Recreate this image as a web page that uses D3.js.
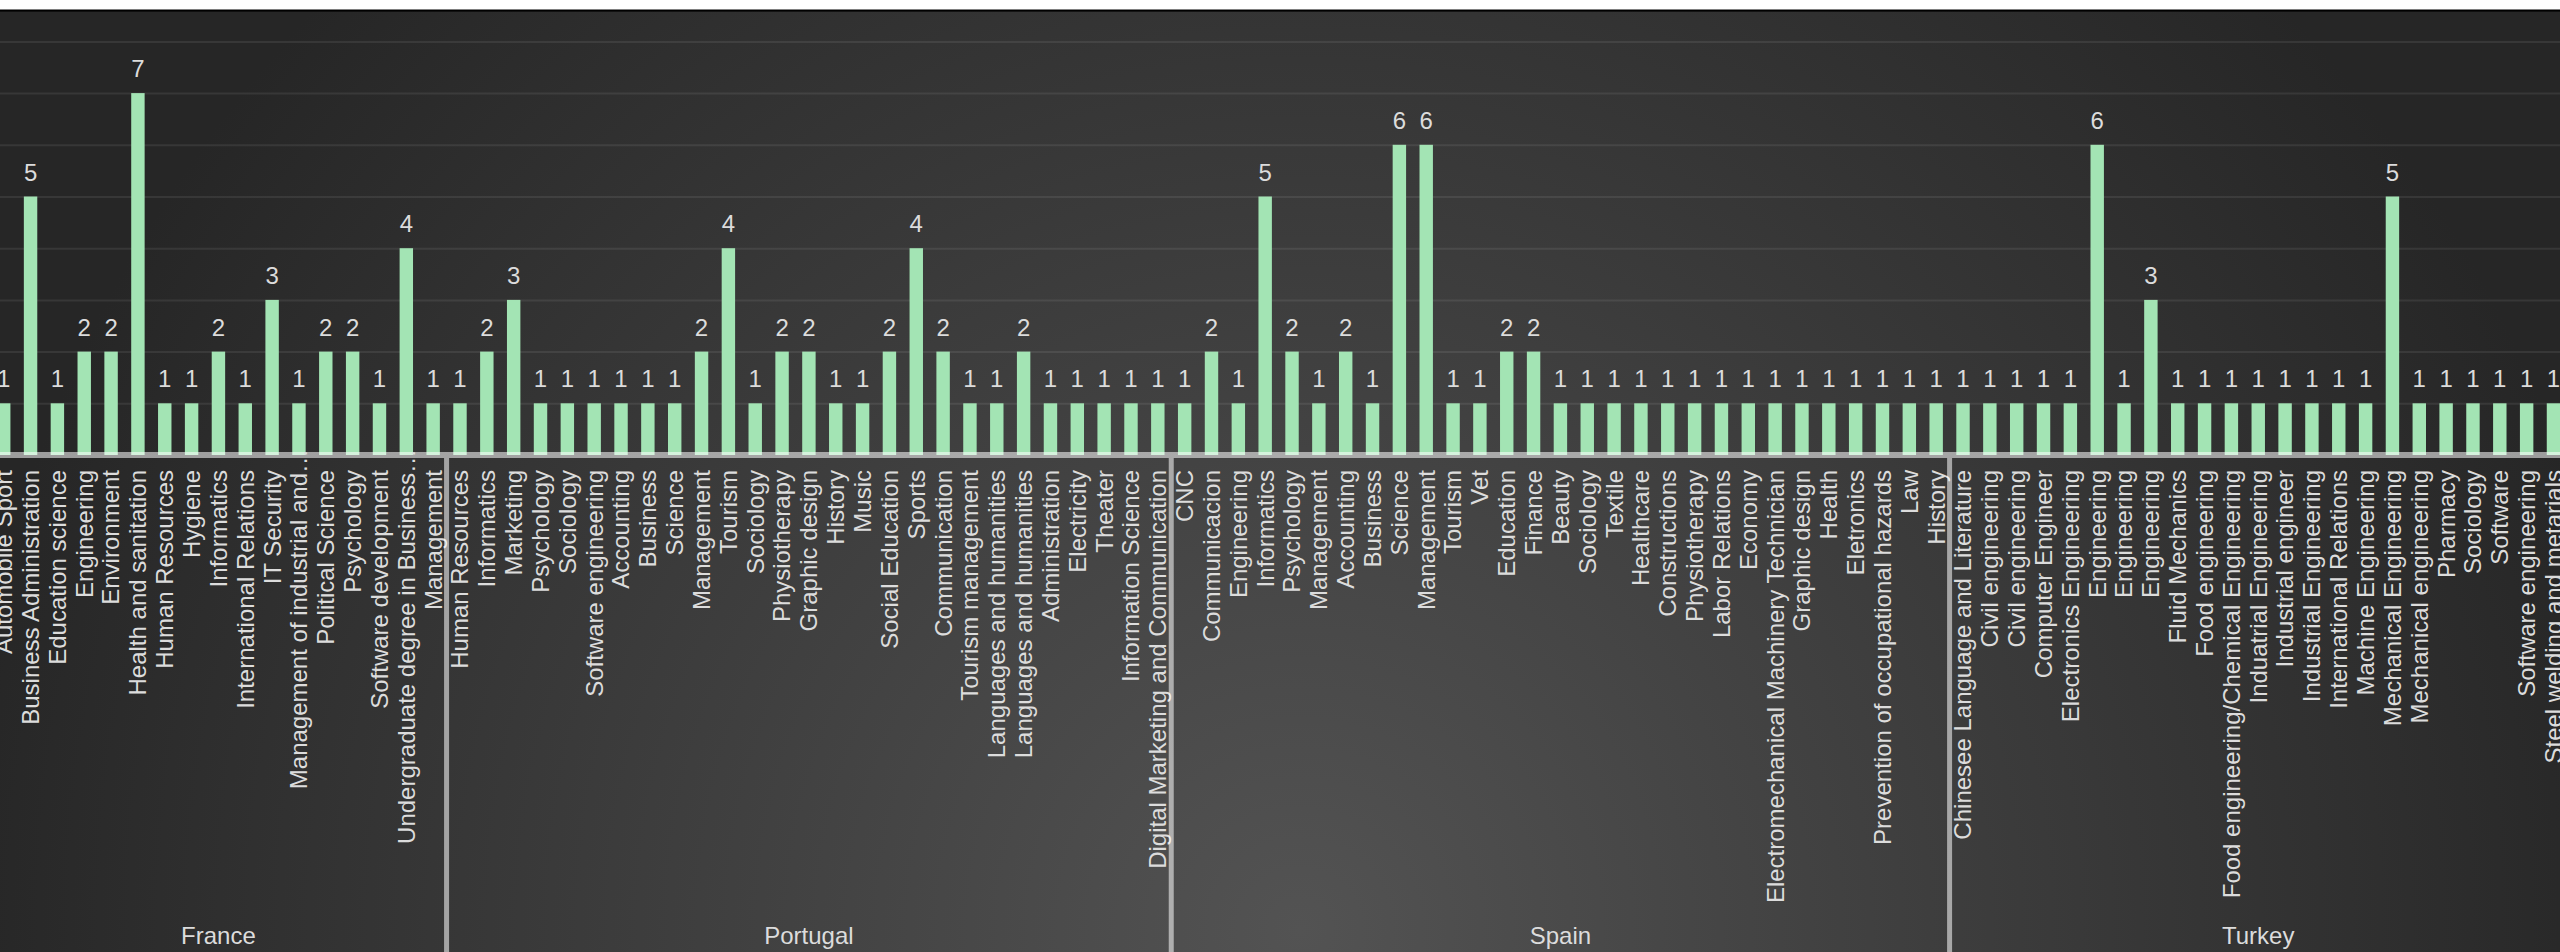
<!DOCTYPE html>
<html>
<head>
<meta charset="utf-8">
<script src="https://cdn.jsdelivr.net/npm/d3@7"></script>
<style>
  html, body { margin: 0; padding: 0; background: #ffffff; overflow: hidden; }
  svg { display: block; font-family: "Liberation Sans", Arial, Helvetica, sans-serif; }
</style>
</head>
<body>
<svg id="chart" width="2560" height="952"></svg>
<script>
// ---------- data ----------
const groups = ["France", "Portugal", "Spain", "Turkey"];

const franceCategories = ["Automobile Sport", "Business Administration", "Education science", "Engineering", "Environment", "Health and sanitation", "Human Resources", "Hygiene", "Informatics", "International Relations", "IT Security", "Management of industrial and…", "Political Science", "Psychology", "Software development", "Undergraduate degree in Business…", "Management"];
const franceValues = [1, 5, 1, 2, 2, 7, 1, 1, 2, 1, 3, 1, 2, 2, 1, 4, 1];

const portugalCategories = ["Human Resources", "Informatics", "Marketing", "Psychology", "Sociology", "Software engineering", "Accounting", "Business", "Science", "Management", "Tourism", "Sociology", "Physiotherapy", "Graphic design", "History", "Music", "Social Education", "Sports", "Communication", "Tourism management", "Languages and humanities", "Languages and humanities", "Administration", "Electricity", "Theater", "Information Science", "Digital Marketing and Communication"];
const portugalValues = [1, 2, 3, 1, 1, 1, 1, 1, 1, 2, 4, 1, 2, 2, 1, 1, 2, 4, 2, 1, 1, 2, 1, 1, 1, 1, 1];

const spainCategories = ["CNC", "Communicacion", "Engineering", "Informatics", "Psychology", "Management", "Accounting", "Business", "Science", "Management", "Tourism", "Vet", "Education", "Finance", "Beauty", "Sociology", "Textile", "Healthcare", "Constructions", "Physiotherapy", "Labor Relations", "Economy", "Electromechanical Machinery Technician", "Graphic design", "Health", "Eletronics", "Prevention of occupational hazards", "Law", "History"];
const spainValues = [1, 2, 1, 5, 2, 1, 2, 1, 6, 6, 1, 1, 2, 2, 1, 1, 1, 1, 1, 1, 1, 1, 1, 1, 1, 1, 1, 1, 1];

const turkeyCategories = ["Chinesee Language and Literature", "Civil engineering", "Civil engineering", "Computer Engineer", "Electronics Engineering", "Engineering", "Engineering", "Engineering", "Fluid Mechanics", "Food engineering", "Food engineering/Chemical Engineering", "Induatrial Engineering", "Industrial engineer", "Industrial Engineering", "International Relations", "Machine Engineering", "Mechanical Engineering", "Mechanical engineering", "Pharmacy", "Sociology", "Software", "Software engineering", "Steel welding and metarials"];
const turkeyValues = [1, 1, 1, 1, 1, 6, 1, 3, 1, 1, 1, 1, 1, 1, 1, 1, 5, 1, 1, 1, 1, 1, 1];

const yTicks = [1, 2, 3, 4, 5, 6, 7, 8];

// ---------- build flat table ----------
const groupCats = [franceCategories, portugalCategories, spainCategories, turkeyCategories];
const groupVals = [franceValues, portugalValues, spainValues, turkeyValues];
const rows = [];
groupCats.forEach((cats, g) => cats.forEach((c, k) => rows.push({ i: rows.length, group: g, name: c, value: groupVals[g][k] })));

// ---------- layout ----------
const W = 2560, H = 952;
const svg = d3.select("#chart");
const TEXT = "#dcdcdc";
const FONT = 24;

const defs = svg.append("defs");
const grad = defs.append("radialGradient").attr("id", "bg")
  .attr("gradientUnits", "userSpaceOnUse")
  .attr("cx", 1300).attr("cy", 930).attr("r", 1350);
grad.append("stop").attr("offset", "0%").attr("stop-color", "#535353");
grad.append("stop").attr("offset", "100%").attr("stop-color", "#262626");

svg.append("rect").attr("x", 0).attr("y", 0).attr("width", W).attr("height", 9).attr("fill", "#ffffff");
svg.append("rect").attr("x", 0).attr("y", 9).attr("width", W).attr("height", H - 9).attr("fill", "url(#bg)");
svg.append("rect").attr("x", 0).attr("y", 9).attr("width", W).attr("height", 0.8).attr("fill", "#bdbdbd");
svg.append("rect").attr("x", 0).attr("y", 9.8).attr("width", W).attr("height", 1.8).attr("fill", "#000000");

const x = d3.scaleBand().domain(rows.map(d => d.i)).range([-9.7, 2566.9]).paddingInner(0.5).paddingOuter(0.25);
const y = d3.scaleLinear().domain([0, 8]).range([455, 41.4]);

// gridlines
const grid = svg.append("g")
  .call(d3.axisLeft(y).tickValues(yTicks).tickSize(-W - 20).tickFormat(""));
grid.select(".domain").remove();
grid.selectAll(".tick line").attr("stroke", "#ffffff").attr("stroke-opacity", 0.08).attr("stroke-width", 2);

// bars
svg.append("g").selectAll("rect").data(rows).join("rect")
  .attr("x", d => x(d.i))
  .attr("width", x.bandwidth())
  .attr("y", d => y(d.value))
  .attr("height", d => y(0) - y(d.value))
  .attr("fill", "#a3e4b4");

// data labels
svg.append("g").selectAll("text").data(rows).join("text")
  .attr("x", d => x(d.i) + x.bandwidth() / 2)
  .attr("y", d => y(d.value) - 16)
  .attr("text-anchor", "middle")
  .attr("font-size", FONT)
  .attr("fill", TEXT)
  .text(d => d.value);

// axis line (under the labels)
svg.append("line").attr("x1", 0).attr("x2", W).attr("y1", y(0)).attr("y2", y(0))
  .attr("stroke", "#ffffff").attr("stroke-opacity", 0.55).attr("stroke-width", 6);

// x axis with category labels
const xAxis = svg.append("g").attr("transform", `translate(0,${y(0)})`)
  .call(d3.axisBottom(x).tickSize(0).tickFormat(i => rows[i].name));
xAxis.select(".domain").remove();
xAxis.selectAll(".tick text")
  .attr("font-size", FONT)
  .attr("font-family", "\"Liberation Sans\", Arial, sans-serif")
  .attr("fill", TEXT)
  .attr("text-anchor", "end")
  .attr("transform", "rotate(-90)")
  .attr("x", i => rows[i].name.endsWith("…") ? 6 : -15)
  .attr("y", 0)
  .attr("dy", "0.35em");

// group dividers and labels
const gap = (x.step() - x.bandwidth()) / 2;
const groupInfo = groups.map((g, gi) => {
  const idx = rows.filter(r => r.group === gi).map(r => r.i);
  const start = x(idx[0]) - gap;
  const end = x(idx[idx.length - 1]) + x.bandwidth() + gap;
  return { name: g, start, end };
});
svg.append("g").selectAll("line").data(groupInfo.slice(1)).join("line")
  .attr("x1", d => d.start).attr("x2", d => d.start)
  .attr("y1", y(0) + 3).attr("y2", H)
  .attr("stroke", "#ffffff").attr("stroke-opacity", 0.55).attr("stroke-width", 5);

svg.append("g").selectAll("text").data(groupInfo).join("text")
  .attr("x", d => (d.start + d.end) / 2)
  .attr("y", 944)
  .attr("text-anchor", "middle")
  .attr("font-size", FONT)
  .attr("fill", TEXT)
  .text(d => d.name);
</script>
</body>
</html>
